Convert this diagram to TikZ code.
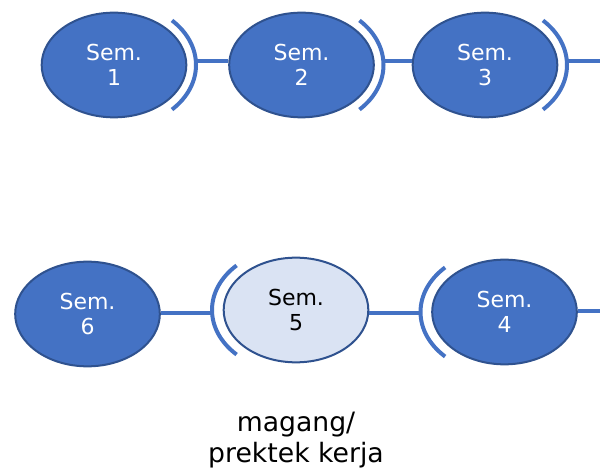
\documentclass[tikz,border=0pt]{standalone}
\usepackage{fontspec}
\setmainfont{DejaVu Sans}
\usetikzlibrary{shapes.geometric}
\definecolor{semblue}{HTML}{4472C4}
\definecolor{semedge}{HTML}{2F528F}
\definecolor{semlight}{HTML}{DAE3F3}
\tikzset{
  sem/.style={ellipse, draw=semedge, line width=1.5pt, fill=semblue, text=white,
    minimum width=108.5pt, minimum height=78.5pt, inner sep=0pt, align=center,
    font=\fontsize{16.5}{18.75}\selectfont},
  semnow/.style={sem, fill=semlight, text=black},
  link/.style={draw=semblue, line width=3pt},
  bracket/.style={draw=semblue, line width=3pt},
}
\begin{document}
\begin{tikzpicture}[x=0.75pt, y=0.75pt]
    \useasboundingbox (0,0) rectangle (600,-470);
    \node[sem]    (s1) at (114,-65)                  {Sem.\\1};
    \node[sem]    (s2) at ([shift={(187.5,0)}]  s1)  {Sem.\\2};
    \node[sem]    (s3) at ([shift={(183.5,0)}]  s2)  {Sem.\\3};
    \node[sem]    (s6) at ([shift={(-26.5,-249)}] s1) {Sem.\\6};
    \node[semnow] (s5) at ([shift={(208.5,4)}]  s6)  {Sem.\\5};
    \node[sem]    (s4) at ([shift={(208.5,-2)}] s5)  {Sem.\\4};
    \node[font=\fontsize{20}{23.25}\selectfont, align=center]
                  (lbl) at ([shift={(0,-130)}] s5)   {magang/\\prektek kerja};
    % brackets
    \foreach \s in {s1,s2,s3}
      \draw[bracket] ([shift={(-45:82 and 63)}] \s.center) arc[start angle=-45, end angle=45, x radius=82, y radius=63];
    \foreach \s in {s5,s4}
      \draw[bracket] ([shift={(135:84 and 63)}] \s.center) arc[start angle=135, end angle=225, x radius=84, y radius=63];
    \coordinate (b1) at ([shift={(82,4)}]   s1.center);
    \coordinate (b2) at ([shift={(82,4)}]   s2.center);
    \coordinate (b3) at ([shift={(82,4)}]   s3.center);
    \coordinate (b5) at ([shift={(-84,-3)}] s5.center);
    \coordinate (b4) at ([shift={(-84,-1)}] s4.center);
    \coordinate (out1) at (600,-61);
    \coordinate (out2) at (600,-311);
    % connectors
    \draw[link] (b1) -- (b1 -| s2.west);
    \draw[link] (b2) -- (b2 -| s3.west);
    \draw[link] (b3) -- (out1);
    \draw[link] (s6.east |- b5) -- (b5);
    \draw[link] (s5.east |- b4) -- (b4);
    \draw[link] (s4.east |- out2) -- (out2);
\end{tikzpicture}
\end{document}
